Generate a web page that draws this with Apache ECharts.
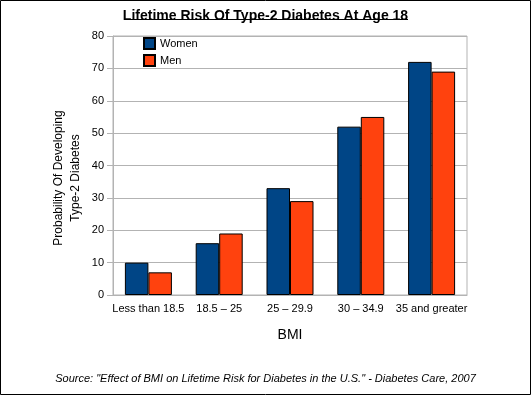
<!DOCTYPE html>
<html>
<head>
<meta charset="utf-8">
<script src="https://cdn.jsdelivr.net/npm/echarts@6/dist/echarts.min.js"></script>
<style>
  html, body { margin: 0; padding: 0; background: #fff; }
  #chart { width: 531px; height: 396px; }
</style>
</head>
<body>
<div id="chart"></div>
<script>
var categories = ['Less than 18.5', '18.5 \u2013 25', '25 \u2013 29.9', '30 \u2013 34.9', '35 and greater'];
var women = [10, 16, 33, 52, 72];
var men = [7, 19, 29, 55, 69];
var yTicks = [0, 10, 20, 30, 40, 50, 60, 70, 80];

var chart = echarts.init(document.getElementById('chart'));
var font = 'Liberation Sans, Arial, sans-serif';
var gridColor = '#b3b3b3';

var option = {
    animation: false,
    textStyle: { fontFamily: font },
    title: {
        text: 'Lifetime Risk Of Type-2 Diabetes At Age 18',
        left: 'center',
        top: 4,
        textStyle: { fontSize: 14, fontWeight: 'bold', color: '#000', fontFamily: font }
    },
    graphic: [
        // underline for the title
        { type: 'rect', z: 100, shape: { x: 125, y: 19, width: 283, height: 1 }, style: { fill: '#000' } },
        // outer frame
        { type: 'rect', shape: { x: 0.5, y: 0.5, width: 530, height: 394 }, style: { fill: 'none', stroke: '#000', lineWidth: 1 } },
        // y axis title, placed by hand so it sits a little below the plot middle like the original
        {
            type: 'text', x: 67, y: 178, rotation: Math.PI / 2,
            style: {
                text: 'Probability Of Developing\nType-2 Diabetes',
                fontFamily: font, fontSize: 12, lineHeight: 17, fill: '#000',
                align: 'center', verticalAlign: 'middle'
            }
        },
        {
            type: 'text', left: 'center', top: 373,
            style: {
                text: 'Source: "Effect of BMI on Lifetime Risk for Diabetes in the U.S." - Diabetes Care, 2007',
                fontFamily: font, fontSize: 11, fontStyle: 'italic', fill: '#000'
            }
        }
    ],
    legend: {
        left: 138,
        top: 32,
        orient: 'vertical',
        itemWidth: 11,
        itemHeight: 11,
        itemGap: 4,
        icon: 'rect',
        textStyle: { fontSize: 11, color: '#000' },
        data: ['Women', 'Men']
    },
    grid: {
        left: 113, right: 64, top: 36, bottom: 101,
        show: true, borderColor: gridColor, borderWidth: 1, containLabel: false
    },
    xAxis: {
        type: 'category',
        data: categories,
        name: 'BMI',
        nameLocation: 'middle',
        nameGap: 33,
        nameTextStyle: { fontSize: 14, color: '#000' },
        axisLine: { lineStyle: { color: gridColor } },
        axisTick: { alignWithLabel: true, length: 5, lineStyle: { color: gridColor } },
        axisLabel: { fontSize: 11, color: '#000', margin: 8, interval: 0 }
    },
    yAxis: {
        type: 'value',
        min: yTicks[0],
        max: yTicks[yTicks.length - 1],
        interval: 10,
        axisLine: { show: true, lineStyle: { color: gridColor } },
        axisTick: { show: true, length: 6, lineStyle: { color: gridColor } },
        axisLabel: { fontSize: 11, color: '#000', margin: 9 },
        splitLine: { lineStyle: { color: gridColor } }
    },
    series: [
        {
            name: 'Women', type: 'bar', data: women,
            barWidth: 23.5, barGap: '0%',
            itemStyle: { color: '#004586', borderColor: '#000', borderWidth: 1 }
        },
        {
            name: 'Men', type: 'bar', data: men,
            barWidth: 23.5,
            itemStyle: { color: '#ff420e', borderColor: '#000', borderWidth: 1 }
        }
    ]
};
chart.setOption(option);
</script>
</body>
</html>
